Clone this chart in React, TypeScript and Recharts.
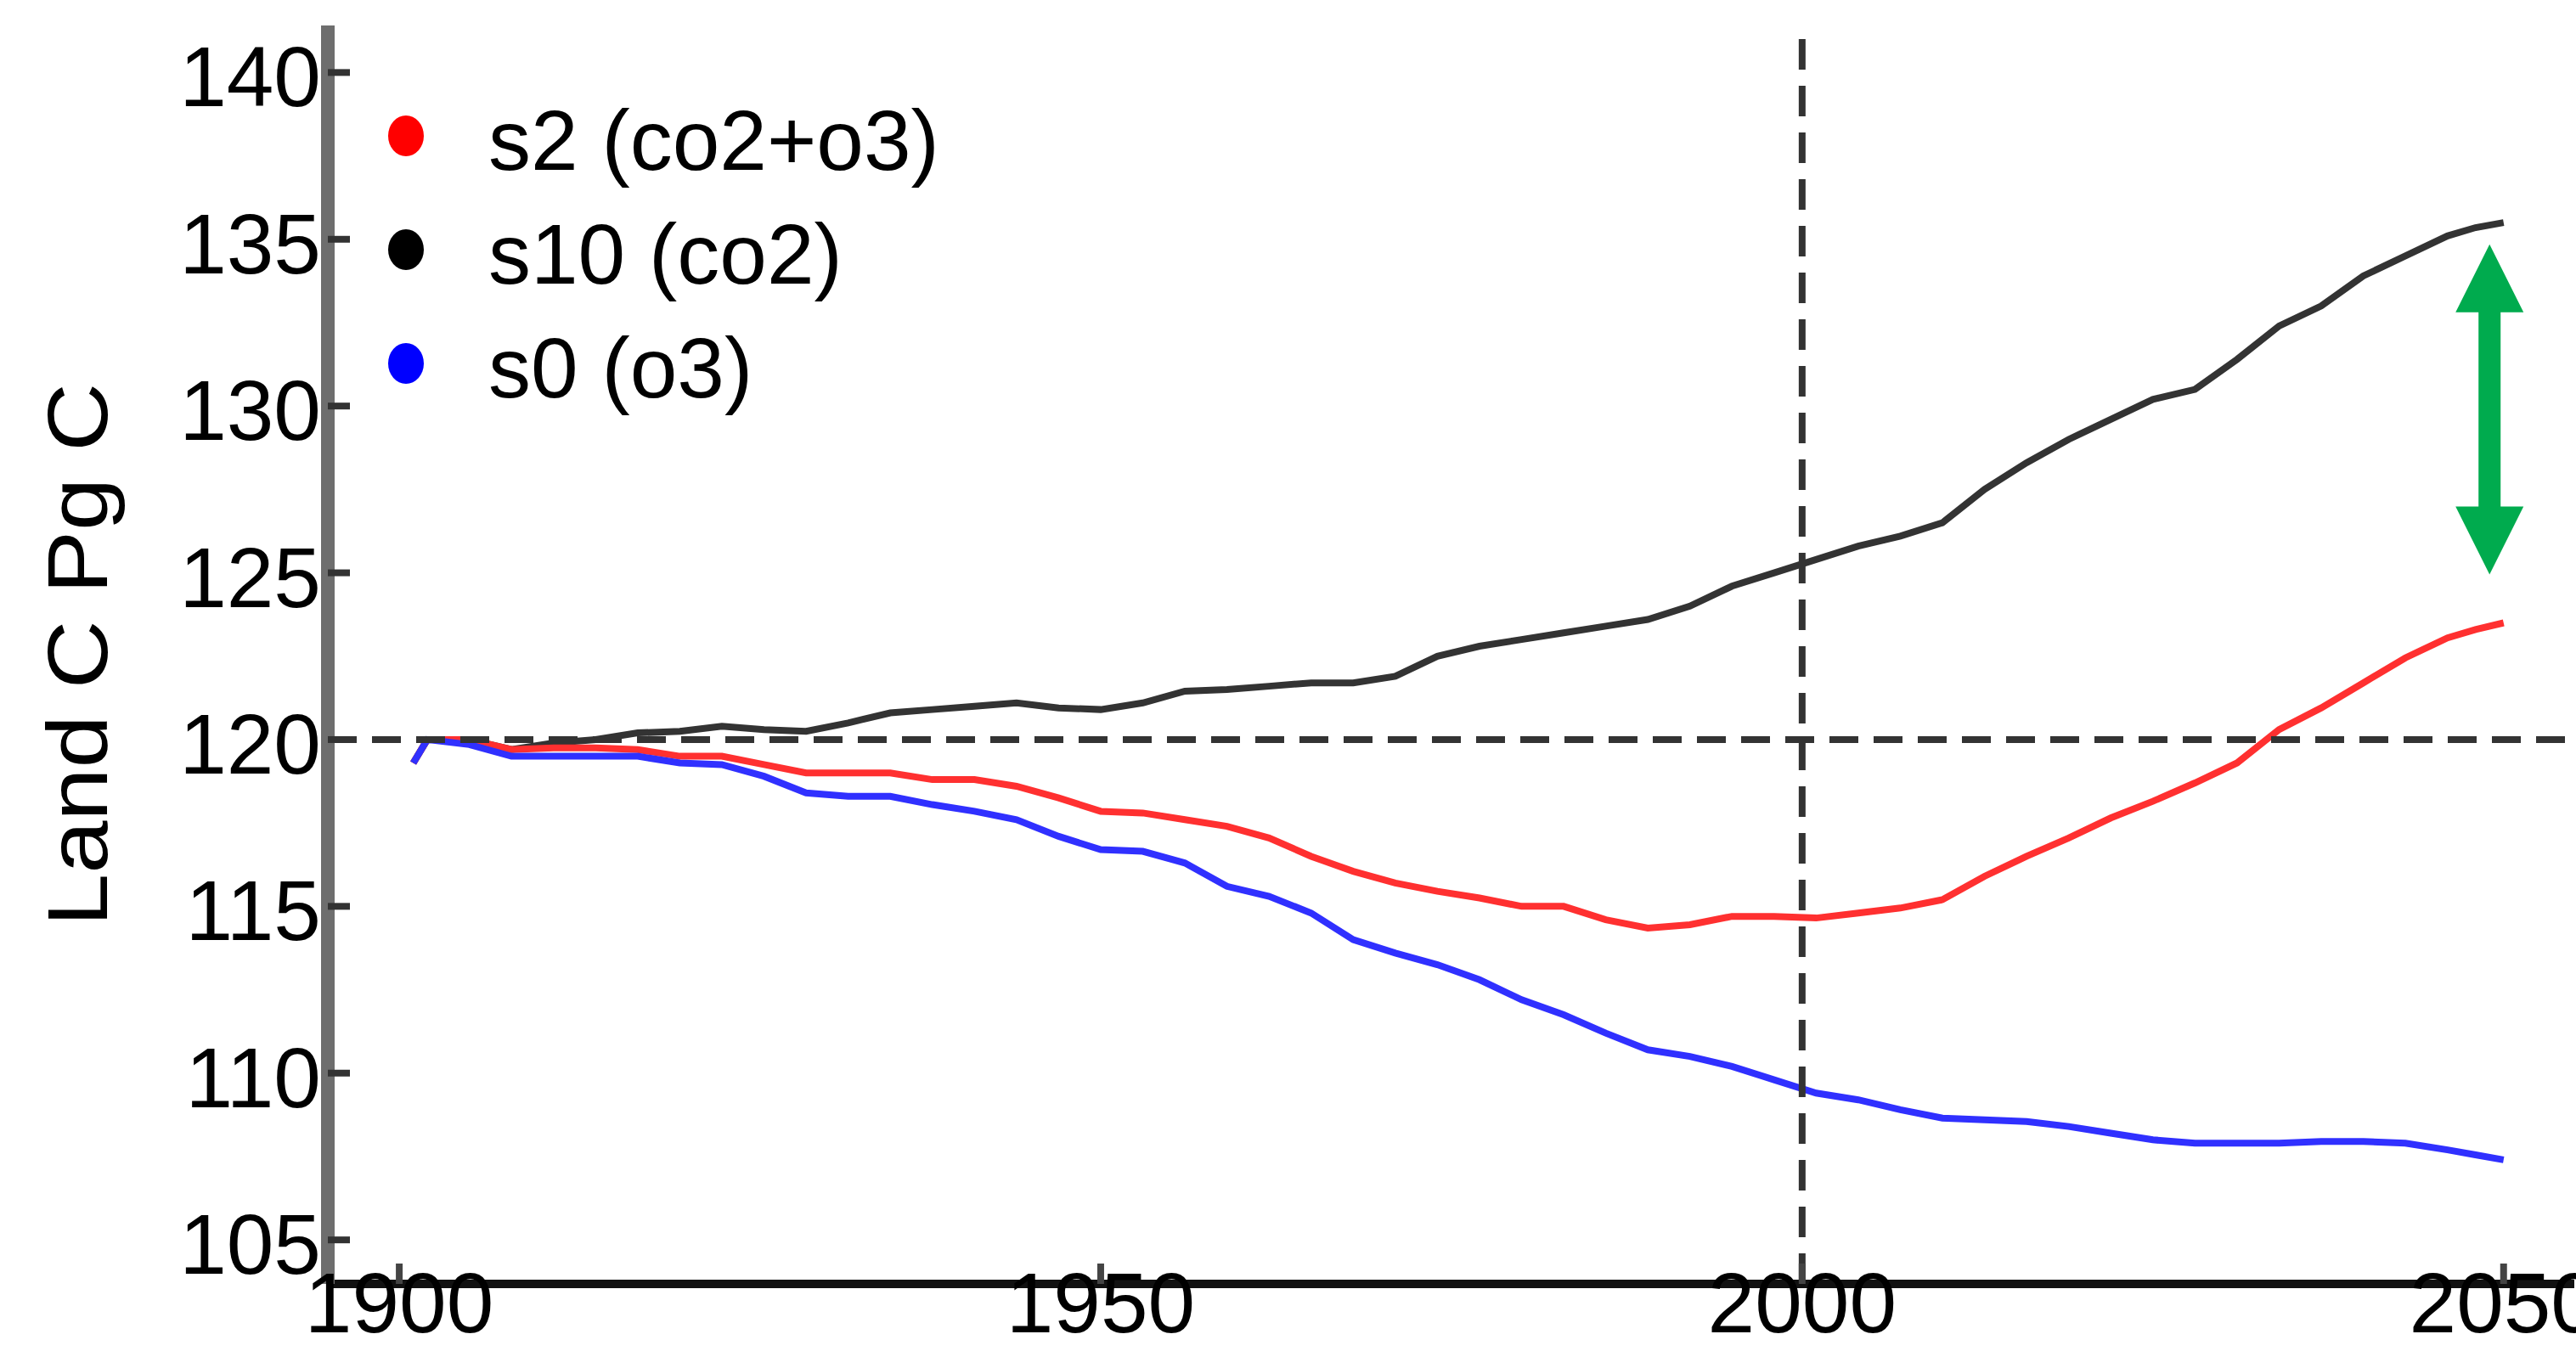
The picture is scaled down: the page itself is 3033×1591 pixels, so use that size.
import { LineChart, Line, XAxis, YAxis, ReferenceLine, Legend } from 'recharts'

// values (Pg C)
const YEARS = [
  1901, 1902, 1905, 1908, 1911, 1914, 1917, 1920, 1923, 1926, 1929, 1932, 1935, 1938, 1941, 1944, 1947,
  1950, 1953, 1956, 1959, 1962, 1965, 1968, 1971, 1974, 1977, 1980, 1983, 1986, 1989, 1992, 1995, 1998,
  2001, 2004, 2007, 2010, 2013, 2016, 2019, 2022, 2025, 2028, 2031, 2034, 2037, 2040, 2043, 2046, 2048, 2050,
]
const S10_CO2 = [
  119.3, 120.0, 120.0, 119.7, 119.9, 120.0, 120.2, 120.25, 120.4, 120.3, 120.25, 120.5, 120.8, 120.9, 121.0, 121.1, 120.95,
  120.9, 121.1, 121.45, 121.5, 121.6, 121.7, 121.7, 121.9, 122.5, 122.8, 123.0, 123.2, 123.4, 123.6, 124.0, 124.6, 125.0,
  125.4, 125.8, 126.1, 126.5, 127.5, 128.3, 129.0, 129.6, 130.2, 130.5, 131.4, 132.4, 133.0, 133.9, 134.5, 135.1, 135.35, 135.5,
]
const S2_CO2_O3 = [
  119.3, 120.0, 120.0, 119.7, 119.75, 119.75, 119.7, 119.5, 119.5, 119.25, 119.0, 119.0, 119.0, 118.8, 118.8, 118.6, 118.25,
  117.85, 117.8, 117.6, 117.4, 117.05, 116.5, 116.05, 115.7, 115.45, 115.25, 115.0, 115.0, 114.6, 114.35, 114.45, 114.7, 114.7,
  114.65, 114.8, 114.95, 115.2, 115.9, 116.5, 117.05, 117.65, 118.15, 118.7, 119.3, 120.3, 120.95, 121.7, 122.45, 123.05, 123.3, 123.5,
]
const S0_O3 = [
  119.3, 120.0, 119.85, 119.5, 119.5, 119.5, 119.5, 119.3, 119.25, 118.9, 118.4, 118.3, 118.3, 118.05, 117.85, 117.6, 117.1,
  116.7, 116.65, 116.3, 115.6, 115.3, 114.8, 114.0, 113.6, 113.25, 112.8, 112.2, 111.75, 111.2, 110.7, 110.5, 110.2, 109.8,
  109.4, 109.2, 108.9, 108.65, 108.6, 108.55, 108.4, 108.2, 108.0, 107.9, 107.9, 107.9, 107.95, 107.95, 107.9, 107.7, 107.55, 107.4,
]

const X_TICKS = [1900, 1950, 2000, 2050]
const Y_TICKS = [105, 110, 115, 120, 125, 130, 135, 140]
const X_DOMAIN = [1894.91, 2055.04]
const Y_DOMAIN = [103.68, 141.41]

// green double arrow: gap between s10 and s2 at the end of the run
const ARROW_YEAR = 2049
const ARROW_TOP = 134.85
const ARROW_BOTTOM = 124.95

const SERIES = [
  { key: 's10', name: 's10 (co2)', line: '#333333', dot: '#000000', values: S10_CO2 },
  { key: 's2', name: 's2 (co2+o3)', line: '#ff3030', dot: '#ff0000', values: S2_CO2_O3 },
  { key: 's0', name: 's0 (o3)', line: '#3030ff', dot: '#0000ff', values: S0_O3 },
]
const LEGEND_ORDER = ['s2', 's10', 's0']

const data = YEARS.map((year, i) => {
  const row: Record<string, number> = { year }
  SERIES.forEach((s) => (row[s.key] = s.values[i]))
  return row
})

const FONT = 'Liberation Sans, Arial, Helvetica, sans-serif'

function YTick({ x, y, payload }: any) {
  return (
    <g>
      <line x1={x} x2={x + 26} y1={y} y2={y} stroke="#333" strokeWidth={8} />
      <text x={x - 8} y={y} dy={40} textAnchor="end" fontSize={100} fill="#000" fontFamily={FONT}>
        {payload.value}
      </text>
    </g>
  )
}

function XTick({ x, y, payload }: any) {
  return (
    <g>
      <line x1={x} x2={x} y1={y} y2={y - 24} stroke="#444" strokeWidth={8} />
      <text x={x} y={y + 57} textAnchor="middle" fontSize={100} fill="#000" fontFamily={FONT}>
        {payload.value}
      </text>
    </g>
  )
}

function YLabel({ viewBox }: any) {
  const cy = viewBox.y + viewBox.height / 2
  return (
    <text
      transform={`translate(126, ${cy}) rotate(-90)`}
      textAnchor="middle"
      fontSize={100}
      fontFamily={FONT}
      fill="#000"
      textLength={640}
      lengthAdjust="spacingAndGlyphs"
    >
      Land C Pg C
    </text>
  )
}

function DoubleArrow({ x1, y1, y2 }: any) {
  const top = Math.min(y1, y2)
  const bot = Math.max(y1, y2)
  const head = 80
  const hw = 40
  const sw = 13
  const pts = [
    [x1, top],
    [x1 + hw, top + head],
    [x1 + sw, top + head],
    [x1 + sw, bot - head],
    [x1 + hw, bot - head],
    [x1, bot],
    [x1 - hw, bot - head],
    [x1 - sw, bot - head],
    [x1 - sw, top + head],
    [x1 - hw, top + head],
  ]
  return <polygon points={pts.map((p) => p.join(',')).join(' ')} fill="#00ab4e" />
}

function LegendBox() {
  const rows = LEGEND_ORDER.map((k) => SERIES.find((s) => s.key === k)!)
  return (
    <svg width={1300} height={520}>
      {rows.map((s, i) => {
        const cy = 160 + i * 134
        return (
          <g key={s.key}>
            <ellipse cx={478} cy={cy} rx={21} ry={24} fill={s.dot} />
            <text x={575} y={cy + 40} fontSize={100} fontFamily={FONT} fill="#000">
              {s.name}
            </text>
          </g>
        )
      })}
    </svg>
  )
}

export default function App() {
  return (
    <div style={{ position: 'absolute', left: 0, top: 0, width: 3033, height: 1591, background: '#fff' }}>
      <LineChart
        width={3033}
        height={1591}
        data={data}
        margin={{ top: 30, right: 2, bottom: 0, left: 0 }}
        style={{ fontFamily: FONT }}
      >
        <XAxis
          dataKey="year"
          type="number"
          domain={X_DOMAIN}
          allowDataOverflow
          ticks={X_TICKS}
          interval={0}
          height={79}
          tickSize={0}
          tickMargin={0}
          tickLine={false}
          tick={<XTick />}
          axisLine={{ stroke: '#111', strokeWidth: 10 }}
        />
        <XAxis
          xAxisId="top"
          orientation="top"
          dataKey="year"
          type="number"
          domain={X_DOMAIN}
          allowDataOverflow
          height={0}
          tick={false}
          tickLine={false}
          axisLine={{ stroke: '#444', strokeWidth: 9 }}
        />
        <YAxis
          type="number"
          domain={Y_DOMAIN}
          allowDataOverflow
          ticks={Y_TICKS}
          interval={0}
          width={386}
          tickSize={0}
          tickMargin={0}
          tickLine={false}
          tick={<YTick />}
          axisLine={{ stroke: '#6e6e6e', strokeWidth: 16 }}
          label={<YLabel />}
        />
        <YAxis
          yAxisId="right"
          orientation="right"
          type="number"
          domain={Y_DOMAIN}
          allowDataOverflow
          width={0}
          tick={false}
          tickLine={false}
          axisLine={{ stroke: '#aaa', strokeWidth: 2 }}
        />
        <Legend
          layout="vertical"
          align="center"
          verticalAlign="middle"
          wrapperStyle={{ left: 0, top: 0, width: 1300, height: 520 }}
          content={() => <LegendBox />}
        />
        {SERIES.map((s) => (
          <Line
            key={s.key}
            dataKey={s.key}
            name={s.name}
            type="linear"
            stroke={s.line}
            strokeWidth={8}
            dot={false}
            activeDot={false}
            isAnimationActive={false}
          />
        ))}
        <ReferenceLine y={120} stroke="#333" strokeWidth={8} strokeDasharray="34 18" />
        <ReferenceLine x={2000} stroke="#333" strokeWidth={8} strokeDasharray="36 19" />
        <ReferenceLine
          segment={[
            { x: ARROW_YEAR, y: ARROW_TOP },
            { x: ARROW_YEAR, y: ARROW_BOTTOM },
          ]}
          shape={DoubleArrow}
        />
      </LineChart>
    </div>
  )
}
